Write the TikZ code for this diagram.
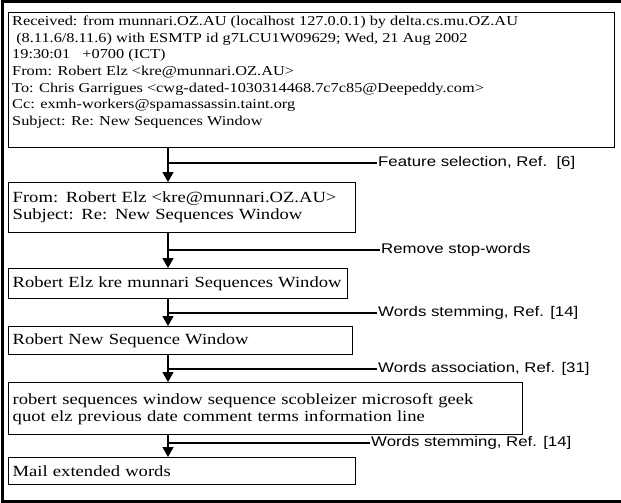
\documentclass[tikz,border=0pt]{standalone}
\usepackage{fontspec}
\setmainfont{Liberation Serif}[FakeStretch=1.2]
\newfontfamily\labelsans{Liberation Sans}[FakeStretch=1.2]
\usetikzlibrary{arrows.meta}

\begin{document}
\begin{tikzpicture}[x=1pt, y=-1pt,
  mailbox/.style={rectangle, draw, line width=1.4pt, anchor=north west, align=left, inner xsep=4pt, inner ysep=2pt, font=\fontsize{15.5}{17}\selectfont},
  mailtext/.style={anchor=north west, align=left, inner sep=0pt, font=\fontsize{13.6}{16.6}\selectfont},
  steplabel/.style={anchor=west, inner sep=1pt, font=\labelsans\fontsize{14}{16}\selectfont},
  flow/.style={-{Triangle[width=11pt,length=10pt]}, line width=1.4pt},
  tie/.style={line width=1.4pt}
]
\useasboundingbox (0,0) rectangle (621,503);

% outer frame, open on the right
\draw[line width=3pt] (626,2) -- (2,2) -- (2,501) -- (626,501);

% Mail header box
\node[mailbox, minimum width=606pt, minimum height=135pt] (header) at (8,12) {};
\node[mailtext] (headertext) at ([shift={(4pt,-4pt)}]header.north west) {Received: from munnari.OZ.AU (localhost 127.0.0.1) by delta.cs.mu.OZ.AU\\
\ (8.11.6/8.11.6) with ESMTP id g7LCU1W09629; Wed, 21 Aug 2002\\
19:30:01\ \ \ +0700 (ICT)\\
From: Robert Elz <kre@munnari.OZ.AU>\\
To: Chris Garrigues <cwg-dated-1030314468.7c7c85@Deepeddy.com>\\
Cc: exmh-workers@spamassassin.taint.org\\
Subject: Re: New Sequences Window};

% Reduced boxes, top to bottom
\node[mailbox, text width=339pt, minimum height=50pt] (selected) at (8,182) {From: Robert Elz <kre@munnari.OZ.AU>\\Subject: Re: New Sequences Window};
\node[mailbox, text width=331pt, minimum height=30pt] (nostop) at (8,268) {Robert Elz kre munnari Sequences Window};
\node[mailbox, text width=336pt, minimum height=28pt] (stemmed) at (8,326) {Robert New Sequence Window};
\node[mailbox, text width=506pt, minimum height=52pt] (associated) at (8,382) {robert sequences window sequence scobleizer microsoft geek\\quot elz previous date comment terms information line};
\node[mailbox, text width=339pt, minimum height=27pt] (extended) at (8,457) {Mail extended words};

% Step labels
\node[steplabel] (featlabel) at (377,163) {Feature selection, Ref.\ \ [6]};
\node[steplabel] (stoplabel) at (380,250) {Remove stop-words};
\node[steplabel] (stemlabel) at (377,313) {Words stemming, Ref. [14]};
\node[steplabel] (assoclabel) at (377,369) {Words association, Ref. [31]};
\node[steplabel] (stemlabelb) at (370,443) {Words stemming, Ref. [14]};

% Vertical flow line
\coordinate (spine) at (168,0);

\draw[flow] (spine |- header.south) -- (spine |- selected.north);
\draw[flow] (spine |- selected.south) -- (spine |- nostop.north);
\draw[flow] (spine |- nostop.south) -- (spine |- stemmed.north);
\draw[flow] (spine |- stemmed.south) -- (spine |- associated.north);
\draw[flow] (spine |- associated.south) -- (spine |- extended.north);

\draw[tie] (spine |- featlabel.west) -- (featlabel.west);
\draw[tie] (spine |- stoplabel.west) -- (stoplabel.west);
\draw[tie] (spine |- stemlabel.west) -- (stemlabel.west);
\draw[tie] (spine |- assoclabel.west) -- (assoclabel.west);
\draw[tie] (spine |- stemlabelb.west) -- (stemlabelb.west);

\end{tikzpicture}
\end{document}
